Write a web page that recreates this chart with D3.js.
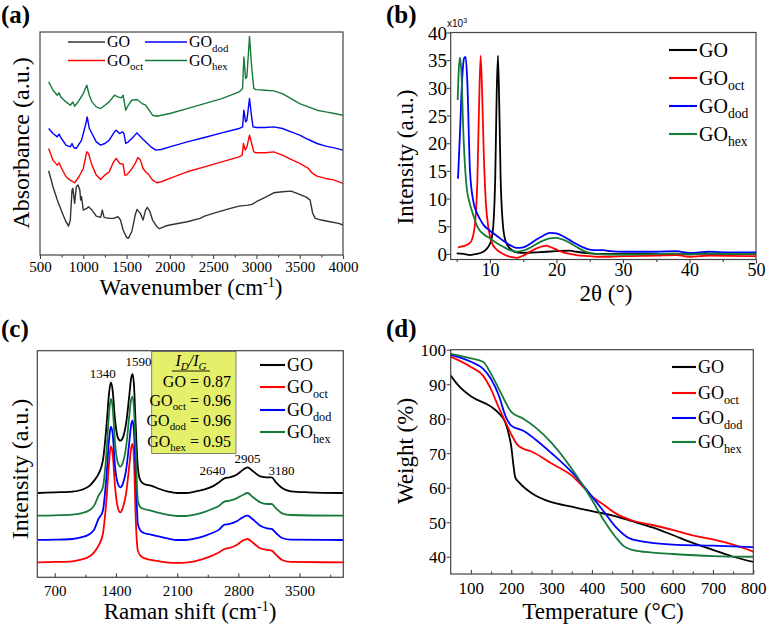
<!DOCTYPE html>
<html>
<head>
<meta charset="utf-8">
<script src="https://cdn.jsdelivr.net/npm/d3@7"></script>
<style>body{margin:0;background:#fff}</style>
</head>
<body>
<script>
// sample names and colours
var baseName = ["GO", "GO", "GO", "GO"];
var subName = ["", "oct", "dod", "hex"];
var colors = ["#000000", "#ff0000", "#0000ff", "#167a3a"];

// (a) FTIR, [wavenumber, absorbance a.u.]
var ftirGO = [[600,25.8],[650,21],[700,17],[760,13],[800,10.5],[830,9.2],[850,11],[870,20],[880,20.5],[900,16],[920,21],[940,21.5],[960,20],[970,17],[980,18],[1000,14],[1040,14.5],[1060,15],[1100,14],[1150,12.2],[1200,11.8],[1220,14],[1240,11.8],[1300,11.5],[1350,11.5],[1400,12],[1430,11],[1460,8],[1500,5.8],[1520,5.5],[1560,7.5],[1600,12.5],[1620,14.2],[1660,13],[1690,11],[1720,14],[1740,14.8],[1770,13.5],[1800,11],[1850,9],[1880,8.4],[1950,9.2],[2000,9.5],[2200,10.5],[2350,11.5],[2400,12.2],[2500,13],[2700,14.5],[2800,15.2],[2900,15.5],[2950,15.7],[3000,16.5],[3100,17.8],[3200,19.2],[3300,19.5],[3400,19.7],[3500,18.7],[3580,17.8],[3620,17],[3650,13],[3680,11.5],[3750,11],[3850,10.5],[3950,10],[4000,9.5]];
var ftirOct = [[600,32.5],[650,29],[700,27.5],[720,28.2],[740,27],[800,24],[850,23],[900,22.2],[950,24],[1000,26.5],[1040,31.5],[1060,31],[1100,27.5],[1150,24.5],[1200,23.2],[1250,24.5],[1300,25.5],[1350,28.5],[1380,29.5],[1420,28],[1460,27.8],[1480,24.5],[1500,24.5],[1550,26],[1600,28],[1630,29.8],[1660,29],[1690,26.5],[1720,25.5],[1760,24.5],[1800,23],[1850,22.2],[1900,22.5],[2000,23.5],[2200,25.5],[2400,27],[2600,28.5],[2800,30],[2835,30.5],[2850,34],[2870,32],[2890,33],[2920,36.5],[2945,34],[2970,31.5],[3000,31.2],[3100,31.2],[3200,31.5],[3300,30.5],[3400,29.2],[3500,28],[3600,26.5],[3650,25],[3700,24.2],[3800,23.5],[3900,23],[4000,22]];
var ftirDod = [[600,38.5],[650,37],[700,36],[720,36.8],[740,35.8],[800,33.5],[850,33],[870,34],[890,32.8],[920,32.5],[980,35],[1030,40],[1045,42],[1070,38.5],[1100,37],[1150,34.5],[1200,33.5],[1250,34],[1300,35],[1360,37.5],[1380,38],[1420,37],[1450,37.5],[1470,37],[1490,34],[1520,34.5],[1560,35.5],[1620,37.2],[1680,35.5],[1720,34.5],[1780,33],[1840,32],[1900,32.2],[2000,33],[2200,34.5],[2400,35.8],[2600,37.2],[2800,38.5],[2840,39],[2855,44],[2875,40.5],[2890,41],[2920,47.5],[2940,43],[2960,39],[3000,38.8],[3100,38.8],[3200,39],[3300,38.5],[3400,37.5],[3500,36.5],[3600,35.2],[3700,34],[3800,33.2],[3900,32.7],[4000,32]];
var ftirHex = [[600,52.5],[650,50],[700,48.5],[720,49.2],[740,48],[800,46.5],[850,45.5],[880,46.5],[900,45.2],[940,46.5],[1000,49],[1040,51.5],[1070,48.5],[1100,46.5],[1150,45],[1200,44.5],[1250,45.5],[1300,46.5],[1360,48.5],[1400,48],[1440,47.7],[1460,48.5],[1490,44],[1520,45.5],[1560,47],[1620,47.2],[1680,46],[1720,45.5],[1760,44],[1800,42.5],[1850,42.2],[1900,42.5],[2000,43],[2200,44.5],[2400,46],[2600,47.5],[2800,49.5],[2840,50.5],[2855,60],[2875,53.5],[2890,54],[2920,66.2],[2945,57],[2970,50.5],[3000,50.2],[3100,50],[3200,49.8],[3300,49],[3400,47.5],[3500,46],[3600,45],[3700,44],[3800,43.5],[3900,43],[4000,42.5]];
var ftirTicks = [500,1000,1500,2000,2500,3000,3500,4000];
var ftirMinor = [750,1250,1750,2250,2750,3250,3750];

// (b) XRD, [2theta, intensity x10^3]
var xrdGO = [[5,0.1],[6,0],[7,-0.2],[8,0],[9,0.4],[9.7,1.2],[10.2,2.5],[10.5,5],[10.8,14],[11,28],[11.2,35.8],[11.4,27],[11.6,14],[11.9,6],[12.3,2.5],[13,1],[14,0.3],[15,0.2],[17,0.3],[20,0.5],[22,0.6],[23,0.4],[25,0.1],[27,0],[30,0],[35,0],[40,0],[45,0],[50,0]];
var xrdOct = [[5.2,1.2],[6,1.4],[7,2],[7.5,3.5],[7.8,6],[8.1,13],[8.35,26],[8.6,35.8],[8.85,28],[9.1,17],[9.4,9],[9.8,4.5],[10.3,2],[11,0.8],[12,0],[13,-0.5],[14,-0.7],[15,-0.3],[16,0.4],[17,1],[18,1.4],[18.5,1.5],[19,1.3],[20,0.8],[21,0.3],[22,0],[23,-0.2],[25,-0.4],[26,-0.5],[28,-0.5],[30,-0.4],[35,-0.3],[38,-0.2],[40,-0.5],[43,-0.3],[50,-0.4]];
var xrdDod = [[5.2,13.6],[5.5,22],[5.8,31],[6.1,35.3],[6.35,35.6],[6.6,31],[7,15],[7.5,9.5],[8,7.5],[8.5,6.3],[9,5.3],[10,4.2],[11,3.3],[12,2.4],[13,1.6],[14,1.1],[15,1.2],[16,1.8],[17,2.6],[18,3.3],[19,3.8],[20,3.7],[21,3.2],[22,2.5],[23,1.8],[24,1.2],[25,0.8],[26,0.7],[27,0.7],[28,0.5],[30,0.4],[35,0.4],[38,0.5],[40,0.2],[43,0.4],[46,0.3],[50,0.3]];
var xrdHex = [[5.15,27.8],[5.3,33],[5.5,35.5],[5.7,33],[6,22],[6.5,12],[7,9],[7.5,7],[8,5.2],[8.5,4.2],[9,3.6],[10,2.8],[11,2],[12,1.3],[13,0.7],[14,0.4],[15,0.6],[16,1.1],[17,1.8],[18,2.4],[19,2.8],[20,2.9],[21,2.6],[22,2],[23,1.3],[24,0.6],[25,0.2],[26,0],[28,-0.1],[30,-0.1],[35,0],[38,0.1],[40,-0.1],[43,0.1],[46,0],[50,0]];
var xrdTicks = [10,20,30,40,50];
var xrdMinor = [5,15,25,35,45];
var xrdYTicks = [0,5,10,15,20,25,30,35,40];

// (c) Raman, [shift, intensity a.u.]
var ramanGO = [[500,25.3],[700,25.5],[900,25.7],[1000,26.2],[1100,27.5],[1150,29],[1200,31],[1250,35],[1290,45],[1320,55],[1340,58.5],[1360,56.5],[1390,47],[1420,42],[1450,41],[1480,42],[1520,47],[1550,54],[1575,60],[1590,61],[1605,58],[1625,46],[1650,33],[1680,29],[1720,28],[1800,27.5],[1900,26.5],[2000,25.7],[2100,25.3],[2200,25.3],[2300,25.7],[2400,26.3],[2500,27.2],[2580,28.5],[2640,29.7],[2700,30],[2780,30.8],[2850,32.2],[2905,33],[2960,32],[3050,30.3],[3130,30],[3180,30],[3230,28.5],[3300,26.8],[3400,25.8],[3600,25.5],[4000,25.3]];
var ramanOct = [[500,4.5],[700,4.6],[900,4.8],[1000,5.3],[1100,6.3],[1150,7.5],[1200,9.5],[1250,13],[1290,23],[1320,34],[1340,39.3],[1360,37.5],[1390,27],[1420,21],[1450,19.5],[1480,21],[1520,26],[1550,33],[1575,39],[1590,40],[1605,36],[1625,18],[1650,8],[1680,6.5],[1720,5.8],[1800,5.2],[1900,4.8],[2000,4.4],[2100,4.3],[2200,4.4],[2300,4.8],[2400,5.5],[2500,6.5],[2580,7.5],[2640,8.5],[2700,8.8],[2780,9.7],[2850,11],[2905,11.5],[2960,10.5],[3050,8.7],[3130,8.2],[3180,8],[3230,6.8],[3300,5.2],[3400,4.6],[4000,4.5]];
var ramanDod = [[500,11.2],[700,11.3],[900,11.5],[1000,12],[1100,13],[1150,14.3],[1200,17.5],[1250,20],[1290,30],[1320,41],[1340,45.2],[1360,43.5],[1390,33],[1420,28.2],[1450,27],[1480,28.2],[1520,33],[1550,40],[1575,46],[1590,47],[1605,44],[1625,32],[1650,16],[1680,14],[1720,13.3],[1800,12.8],[1900,12.2],[2000,11.6],[2100,11.2],[2200,11.2],[2300,11.6],[2400,12.3],[2500,13.3],[2580,14.3],[2640,15.8],[2700,16],[2780,16.8],[2850,18],[2905,18.5],[2960,17.5],[3050,15.5],[3130,14.7],[3180,14.5],[3230,13.3],[3300,11.8],[3400,11.3],[4000,11.2]];
var ramanHex = [[500,18.5],[700,18.6],[900,18.8],[1000,19.2],[1100,20.2],[1150,21.5],[1200,24.5],[1250,27],[1290,37],[1320,49],[1340,53.5],[1360,51.5],[1390,40],[1420,34.5],[1450,33.2],[1480,34.5],[1520,40],[1550,48],[1575,53.5],[1590,54.2],[1605,51],[1625,39],[1650,23],[1680,21],[1720,20.5],[1800,20],[1900,19.3],[2000,18.7],[2100,18.4],[2200,18.4],[2300,18.8],[2400,19.5],[2500,20.5],[2580,21.5],[2640,22.7],[2700,23],[2780,23.7],[2850,24.7],[2905,25.3],[2960,24.2],[3050,22.5],[3130,22],[3180,22],[3230,20.7],[3300,19.2],[3400,18.7],[4000,18.5]];
var ramanTicks = [700,1400,2100,2800,3500];
var ramanMinor = [1050,1750,2450,3150,3850];
var ramanPeaks = [1340,1590,2640,2905,3180];
var ratioValues = ["0.87","0.96","0.96","0.95"];

// (d) TGA, [temperature, weight %]
var tgaGO = [[50,92.5],[70,89.5],[100,86.5],[150,83.5],[170,81.5],[185,79],[195,75],[200,72],[205,67],[210,63],[220,61.5],[250,58.5],[300,55.8],[350,54.5],[400,53.2],[450,52],[500,50.3],[550,48.5],[600,46.3],[650,44],[700,42],[750,40],[800,38.5]];
var tgaOct = [[50,98],[100,95],[130,92.5],[150,88.5],[170,83],[190,78],[200,75.5],[215,72.5],[230,71.3],[250,70.5],[300,67],[350,63.5],[380,60],[400,57.5],[430,55],[460,52.5],[500,50.5],[550,49.2],[600,47.8],[650,46.2],[700,45],[750,43.5],[800,41.5]];
var tgaDod = [[50,98.5],[100,96.5],[130,94.5],[150,91.5],[170,86.5],[185,81],[200,78],[230,76.5],[260,74],[300,70],[350,64.5],[400,57.5],[430,53],[460,48.5],[490,45.5],[520,44.5],[600,43.5],[700,43.2],[800,42.8]];
var tgaHex = [[50,98.8],[100,97.5],[130,96.5],[150,93],[170,88.5],[185,85],[200,82],[230,80],[260,77.5],[300,73],[350,65.5],[400,56.5],[430,50.5],[460,45.5],[480,43],[500,42],[550,41.2],[600,40.8],[700,40.2],[800,40]];
var tgaTicks = [100,200,300,400,500,600,700,800];
var tgaMinor = [150,250,350,450,550,650,750];
var tgaYTicks = [40,50,60,70,80,90,100];

var FONT = "'Liberation Serif','Times New Roman',serif";
var svg = d3.select("body").append("svg").attr("width", 768).attr("height", 628);

//text with an optional subscript and a tail after it
function subText(sel, x, y, size, base, sub, tail){
    var t = sel.append("text").attr("x", x).attr("y", y)
        .style("font-family", FONT).style("font-size", size + "px");
    t.append("tspan").text(base);
    if (sub) t.append("tspan").attr("dy", size*0.28).style("font-size", (size*0.68) + "px").text(sub);
    if (tail) t.append("tspan").attr("dy", sub ? -size*0.28 : 0).text(tail);
    return t;
}

function panel(c){
    var x = d3.scaleLinear().domain(c.xDomain).range([c.l, c.r]);
    var y = d3.scaleLinear().domain(c.yDomain).range([c.b, c.t]);
    var g = svg.append("g");
    g.append("clipPath").attr("id", "clip" + c.id).append("rect")
        .attr("x", c.l).attr("y", c.t).attr("width", c.r - c.l).attr("height", c.b - c.t);

    //extra decorations behind the curves
    if (c.behind) c.behind(g, x, y);

    var line = d3.line().x(function(d){ return x(d[0]); }).y(function(d){ return y(d[1]); })
        .curve(c.curve || d3.curveLinear);
    c.series.forEach(function(s, i){
        g.append("path").datum(s).attr("d", line)
            .attr("fill", "none").attr("stroke", c.colors[i])
            .attr("stroke-width", c.lw).attr("stroke-linejoin", "round")
            .attr("clip-path", "url(#clip" + c.id + ")");
    });

    //frame
    g.append("rect").attr("x", c.l).attr("y", c.t).attr("width", c.r - c.l).attr("height", c.b - c.t)
        .attr("fill", "none").attr("stroke", "#444").attr("stroke-width", 1.2);

    //bottom axis
    var xa = g.append("g").attr("transform", "translate(0," + c.b + ")")
        .call(d3.axisBottom(x).tickValues(c.xTicks).tickSize(c.xTickDir * 4).tickFormat(d3.format("d")));
    xa.select(".domain").remove();
    xa.selectAll("line").attr("stroke", "#444").attr("stroke-width", 1.1);
    xa.selectAll("text").attr("y", c.xLabelY - c.b).attr("dy", null)
        .style("font-family", FONT).style("font-size", c.tickFont + "px").attr("fill", "#000");
    if (c.xMinor){
        var xm = g.append("g").attr("transform", "translate(0," + c.b + ")")
            .call(d3.axisBottom(x).tickValues(c.xMinor).tickSize(c.xTickDir * 2.5).tickFormat(""));
        xm.select(".domain").remove();
        xm.selectAll("line").attr("stroke", "#444").attr("stroke-width", 1.1);
    }
    //left axis
    if (c.yTicks){
        var ya = g.append("g").attr("transform", "translate(" + c.l + ",0)")
            .call(d3.axisLeft(y).tickValues(c.yTicks).tickSize(4));
        ya.select(".domain").remove();
        ya.selectAll("line").attr("stroke", "#444").attr("stroke-width", 1.1);
        ya.selectAll("text").attr("x", c.yLabelX - c.l).attr("dy", "0.35em")
            .style("font-family", FONT).style("font-size", (c.yTickFont || c.tickFont) + "px").attr("fill", "#000");
    }

    //axis titles
    c.xTitle(g.append("g"));
    g.append("text").attr("transform", "translate(" + c.yTitleX + "," + c.yTitleY + ") rotate(-90)")
        .attr("text-anchor", "middle").style("font-family", FONT).style("font-size", c.titleFont + "px")
        .text(c.yTitle);

    //legend
    c.legend.rows.forEach(function(r, i){
        g.append("line").attr("x1", r[0]).attr("x2", r[1]).attr("y1", r[2]).attr("y2", r[2])
            .attr("stroke", c.colors[i]).attr("stroke-width", c.lw + 0.3);
        subText(g, r[1] + 2, r[2] + c.legend.size*0.33, c.legend.size, baseName[i], subName[i]);
    });

    //panel letter
    g.append("text").attr("x", c.labelX).attr("y", c.labelY)
        .style("font-family", FONT).style("font-size", "25px").style("font-weight", "bold")
        .text(c.label);
    if (c.after) c.after(g, x, y);
}

//(a)
panel({
    id: "a", label: "(a)", labelX: 1, labelY: 23,
    l: 40, r: 343, t: 32, b: 255,
    xDomain: [500, 4000], yDomain: [0.5, 67.5],
    series: [ftirGO, ftirOct, ftirDod, ftirHex],
    colors: ["#333333", colors[1], colors[2], colors[3]], lw: 1.4,
    xTicks: ftirTicks, xMinor: ftirMinor, xTickDir: 1,
    xLabelY: 272, tickFont: 15,
    xTitle: function(t){
        var tx = t.append("text").attr("x", 191).attr("y", 295).attr("text-anchor", "middle")
            .style("font-family", FONT).style("font-size", "23px");
        tx.append("tspan").text("Wavenumber (cm");
        tx.append("tspan").attr("dy", -8).style("font-size", "14px").text("-1");
        tx.append("tspan").attr("dy", 8).text(")");
    },
    titleFont: 24, yTitle: "Absorbance (a.u.)", yTitleX: 29, yTitleY: 143,
    legend: { size: 16, rows: [[68,105,42],[68,105,60.5],[145,187,42],[145,187,60.5]] }
});

//(b)
panel({
    id: "b", label: "(b)", labelX: 386, labelY: 23,
    l: 450.7, r: 756, t: 32.5, b: 259.5,
    xDomain: [4.1, 50], yDomain: [-1, 40],
    series: [xrdGO, xrdOct, xrdDod, xrdHex],
    colors: colors, lw: 1.8, curve: d3.curveMonotoneX,
    xTicks: xrdTicks, xMinor: xrdMinor, xTickDir: 1,
    xLabelY: 276, tickFont: 18, yTickFont: 19,
    yTicks: xrdYTicks, yLabelX: 447,
    xTitle: function(t){
        t.append("text").attr("x", 606).attr("y", 301).attr("text-anchor", "middle")
            .style("font-family", FONT).style("font-size", "23px").text("2\u03b8 (\u00b0)");
    },
    titleFont: 23, yTitle: "Intensity (a.u.)", yTitleX: 413, yTitleY: 157,
    legend: { size: 20, rows: [[669,697,50],[669,697,78],[669,697,106],[669,697,134]] },
    after: function(g){
        var t = g.append("text").attr("x", 447).attr("y", 27).style("font-family", "'Liberation Sans',Arial,sans-serif")
            .style("font-size", "10px");
        t.append("tspan").text("x10");
        t.append("tspan").attr("dy", -4).style("font-size", "7px").text("3");
    }
});

//(c)
panel({
    id: "c", label: "(c)", labelX: 1, labelY: 337,
    l: 37.3, r: 343.3, t: 350.7, b: 577.3,
    xDomain: [500, 4000], yDomain: [0, 68],
    series: [ramanGO, ramanOct, ramanDod, ramanHex],
    colors: colors, lw: 1.8, curve: d3.curveMonotoneX,
    xTicks: ramanTicks, xMinor: ramanMinor, xTickDir: -1,
    xLabelY: 596, tickFont: 15,
    xTitle: function(t){
        var tx = t.append("text").attr("x", 190).attr("y", 619).attr("text-anchor", "middle")
            .style("font-family", FONT).style("font-size", "23px");
        tx.append("tspan").text("Raman shift (cm");
        tx.append("tspan").attr("dy", -8).style("font-size", "14px").text("-1");
        tx.append("tspan").attr("dy", 8).text(")");
    },
    titleFont: 24, yTitle: "Intensity (a.u.)", yTitleX: 28, yTitleY: 469,
    legend: { size: 18, rows: [[260,285,365],[260,285,387],[260,285,410],[260,285,432]] },
    behind: function(g){
        //I_D/I_G box
        g.append("rect").attr("x", 151.7).attr("y", 351.5).attr("width", 84.3).attr("height", 102)
            .attr("fill", "#e4ef6a").attr("stroke", "#666").attr("stroke-width", 0.8);
    },
    after: function(g, x, y){
        var dx = [-8, 6, -12, 0, 10];
        var lift = [4, 8, 3, 4, 2];
        ramanPeaks.forEach(function(p, i){
            var v = ramanGO.find(function(d){ return d[0] === p; })[1];
            g.append("text").attr("x", x(p) + dx[i]).attr("y", y(v) - lift[i])
                .attr("text-anchor", "middle").style("font-family", FONT).style("font-size", "13px").text(p);
        });
        var tt = g.append("text").attr("x", 191).attr("y", 366).attr("text-anchor", "middle")
            .style("font-family", FONT).style("font-size", "16px").style("font-style", "italic");
        tt.append("tspan").text("I");
        tt.append("tspan").attr("dy", 4).style("font-size", "11px").text("D");
        tt.append("tspan").attr("dy", -4).text("/I");
        tt.append("tspan").attr("dy", 4).style("font-size", "11px").text("G");
        g.append("line").attr("x1", 172).attr("x2", 210).attr("y1", 371).attr("y2", 371)
            .attr("stroke", "#000").attr("stroke-width", 0.9);
        var ys = [387, 406, 426, 447];
        ratioValues.forEach(function(v, i){
            subText(g, 231, ys[i], 16, baseName[i], subName[i], " = " + v).attr("text-anchor", "end");
        });
    }
});

//(d)
panel({
    id: "d", label: "(d)", labelX: 386, labelY: 337,
    l: 450.7, r: 753.3, t: 349.7, b: 574,
    xDomain: [50, 800], yDomain: [35, 100],
    series: [tgaGO, tgaOct, tgaDod, tgaHex],
    colors: colors, lw: 1.8, curve: d3.curveMonotoneX,
    xTicks: tgaTicks, xMinor: tgaMinor, xTickDir: -1,
    xLabelY: 594, tickFont: 17,
    yTicks: tgaYTicks, yLabelX: 446,
    xTitle: function(t){
        t.append("text").attr("x", 603).attr("y", 619).attr("text-anchor", "middle")
            .style("font-family", FONT).style("font-size", "23px").text("Temperature (\u00b0C)");
    },
    titleFont: 23, yTitle: "Weight (%)", yTitleX: 413, yTitleY: 451,
    legend: { size: 18, rows: [[672,696,367],[672,696,393],[672,696,418],[672,696,442]] }
});
</script>
</body>
</html>
